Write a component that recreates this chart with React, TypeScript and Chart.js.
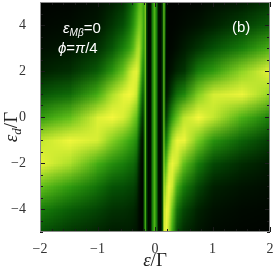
import React, { useEffect, useRef } from "react";
import { Chart, registerables } from "chart.js";

Chart.register(...registerables);

// ---- data ----
// x nodes: ε/Γ (non-uniform, dense near the three narrow resonances)
const epsNodes = [
  -2, -1.5, -1, -0.75, -0.55, -0.45, -0.38, -0.32, -0.28, -0.245, -0.215,
  -0.19, -0.17, -0.15, -0.12, -0.08, -0.045, -0.01, 0.025, 0.06, 0.1, 0.135,
  0.155, 0.175, 0.2, 0.24, 0.3, 0.38, 0.5, 0.75, 1, 1.5, 2,
];
// y nodes: ε_d/Γ, top to bottom
const epsDNodes = [5, 4, 3, 2, 1, 0, -1, -2, -3, -4, -5];

// estimated intensity (0..100) per row, one value per x node
const rowY5 = [2, 3, 8, 16, 22, 32, 42, 55, 66, 70, 64, 58, 82, 30, 5, 8, 45, 65, 45, 10, 5, 30, 75, 35, 5, 2, 2, 2, 3, 4, 8, 14, 22];
const rowY4 = [4, 6, 12, 22, 30, 40, 52, 66, 76, 75, 66, 56, 82, 30, 5, 8, 45, 65, 45, 10, 5, 30, 75, 33, 5, 3, 3, 4, 6, 10, 16, 25, 35];
const rowY3 = [8, 11, 20, 32, 46, 56, 68, 82, 86, 76, 62, 54, 80, 30, 5, 8, 45, 65, 45, 10, 5, 30, 75, 30, 5, 4, 5, 8, 14, 22, 30, 44, 64];
const rowY2 = [16, 20, 34, 53, 73, 87, 95, 97, 88, 68, 50, 48, 78, 30, 5, 8, 45, 65, 45, 10, 5, 30, 75, 28, 6, 8, 12, 18, 22, 44, 55, 80, 98];
const rowY1 = [32, 38, 63, 85, 97, 100, 97, 90, 72, 50, 35, 40, 76, 30, 5, 8, 45, 65, 45, 10, 5, 30, 75, 28, 12, 18, 28, 40, 48, 78, 93, 98, 80];
const rowY0 = [56, 70, 95, 100, 94, 86, 78, 70, 50, 32, 22, 34, 75, 30, 5, 8, 45, 65, 45, 10, 5, 30, 76, 32, 25, 38, 55, 72, 88, 100, 89, 64, 44];
const rowYm1 = [89, 99, 93, 78, 67, 60, 55, 48, 30, 16, 10, 30, 74, 30, 5, 8, 45, 65, 45, 10, 5, 30, 78, 45, 45, 65, 85, 98, 98, 75, 52, 35, 24];
const rowYm2 = [97, 85, 62, 50, 44, 40, 38, 32, 18, 8, 5, 30, 72, 30, 5, 8, 45, 65, 45, 10, 5, 32, 82, 62, 70, 90, 98, 91, 70, 43, 28, 19, 13];
const rowYm3 = [70, 55, 40, 31, 29, 27, 26, 22, 11, 5, 3, 30, 70, 30, 5, 8, 45, 65, 45, 10, 5, 34, 88, 78, 88, 99, 90, 63, 43, 26, 16, 10, 7];
const rowYm4 = [44, 34, 26, 21, 20, 19, 18, 15, 7, 3, 3, 30, 68, 30, 5, 8, 45, 65, 45, 10, 5, 36, 94, 90, 98, 95, 72, 40, 27, 16, 9, 5, 4];
const rowYm5 = [30, 22, 17, 14, 14, 14, 12, 10, 5, 3, 3, 30, 66, 30, 5, 8, 45, 65, 45, 10, 5, 38, 97, 95, 98, 85, 58, 28, 18, 10, 5, 3, 2];

const xTicks = [-2, -1, 0, 1, 2];
const xTickLabels = ["\u22122", "\u22121", "0", "1", "2"];
const yTicks = [-4, -2, 0, 2, 4];
const yTickLabels = ["\u22124", "\u22122", "0", "2", "4"];

const intensity = [rowY5, rowY4, rowY3, rowY2, rowY1, rowY0, rowYm1, rowYm2, rowYm3, rowYm4, rowYm5];

// ---- colour map (black -> dark green -> green -> yellow) ----
const STOPS: [number, number[]][] = [
  [0, [0, 0, 0]],
  [0.15, [0, 30, 0]],
  [0.3, [5, 80, 5]],
  [0.45, [25, 128, 10]],
  [0.6, [60, 168, 18]],
  [0.75, [115, 202, 30]],
  [0.88, [190, 230, 45]],
  [1, [245, 248, 60]],
];
function cmap(v: number): number[] {
  const t = Math.max(0, Math.min(1, v / 100));
  for (let i = 1; i < STOPS.length; i++) {
    if (t <= STOPS[i][0]) {
      const [t0, c0] = STOPS[i - 1];
      const [t1, c1] = STOPS[i];
      const f = (t - t0) / (t1 - t0);
      return [0, 1, 2].map((k) => Math.round(c0[k] + (c1[k] - c0[k]) * f));
    }
  }
  return STOPS[STOPS.length - 1][1];
}

const SERIF = "'Liberation Serif', 'Times New Roman', serif";
const SANS = "'Liberation Sans', Arial, sans-serif";

type Seg = { t: string; font: string; dy?: number };
function drawSegs(ctx: CanvasRenderingContext2D, segs: Seg[], x: number, y: number, align: "left" | "center") {
  let total = 0;
  for (const s of segs) {
    ctx.font = s.font;
    total += ctx.measureText(s.t).width;
  }
  let cx = align === "center" ? x - total / 2 : x;
  for (const s of segs) {
    ctx.font = s.font;
    ctx.fillText(s.t, cx, y + (s.dy || 0));
    cx += ctx.measureText(s.t).width;
  }
}

const heatmapPlugin = {
  id: "heatmap",
  beforeDatasetsDraw(chart: any) {
    const { ctx, chartArea, scales } = chart;
    const xs = scales.x;
    const ys = scales.y;
    const nC = epsNodes.length;
    const nR = epsDNodes.length;
    const off = document.createElement("canvas");
    off.width = nC;
    off.height = nR;
    const octx = off.getContext("2d")!;
    const img = octx.createImageData(nC, nR);
    for (let r = 0; r < nR; r++) {
      for (let c = 0; c < nC; c++) {
        const col = cmap(intensity[r][c]);
        const k = (r * nC + c) * 4;
        img.data[k] = col[0];
        img.data[k + 1] = col[1];
        img.data[k + 2] = col[2];
        img.data[k + 3] = 255;
      }
    }
    octx.putImageData(img, 0, 0);
    const py0 = ys.getPixelForValue(epsDNodes[0]);
    const py1 = ys.getPixelForValue(epsDNodes[nR - 1]);
    const h = (py1 - py0) / (nR - 1);
    const top = Math.round(chartArea.top);
    const bottom = Math.round(chartArea.bottom);
    ctx.save();
    ctx.fillStyle = "#000";
    ctx.fillRect(chartArea.left, chartArea.top, chartArea.right - chartArea.left, chartArea.bottom - chartArea.top);
    ctx.imageSmoothingEnabled = true;
    (ctx as any).imageSmoothingQuality = "low";
    for (let c = 0; c < nC - 1; c++) {
      const xa = xs.getPixelForValue(epsNodes[c]);
      const xb = xs.getPixelForValue(epsNodes[c + 1]);
      const w = xb - xa;
      const L = Math.round(xa);
      const R = Math.round(xb);
      if (R <= L) continue;
      ctx.save();
      ctx.beginPath();
      ctx.rect(L, top, R - L, bottom - top);
      ctx.clip();
      ctx.drawImage(off, c, 0, 2, nR, xa - w / 2, py0 - h / 2, 2 * w, nR * h);
      ctx.restore();
    }
    ctx.restore();
  },
  afterDatasetsDraw(chart: any) {
    const { ctx, chartArea, scales } = chart;
    const xs = scales.x;
    const ys = scales.y;
    const { left, right, top, bottom } = chartArea;
    ctx.save();
    // inward frame ticks
    ctx.strokeStyle = "#1a1a1a";
    ctx.lineWidth = 1;
    ctx.beginPath();
    for (let i = -10; i <= 10; i++) {
      const v = i / 2;
      const len = i % 4 === 0 ? 5 : 3;
      const y = Math.round(ys.getPixelForValue(v)) + 0.5;
      ctx.moveTo(left, y);
      ctx.lineTo(left + len, y);
      ctx.moveTo(right, y);
      ctx.lineTo(right - len, y);
    }
    for (let i = -10; i <= 10; i++) {
      const v = i / 5;
      const len = i % 5 === 0 ? 5 : 3;
      const x = Math.round(xs.getPixelForValue(v)) + 0.5;
      ctx.moveTo(x, bottom);
      ctx.lineTo(x, bottom - len);
      ctx.moveTo(x, top);
      ctx.lineTo(x, top + len);
    }
    ctx.stroke();
    // frame
    ctx.strokeStyle = "#8c8c8c";
    ctx.strokeRect(Math.round(left) + 0.5, Math.round(top) + 0.5, Math.round(right - left) - 1, Math.round(bottom - top) - 1);

    // annotations
    ctx.fillStyle = "#ffffff";
    ctx.textBaseline = "alphabetic";
    ctx.textAlign = "left";
    drawSegs(ctx, [
      { t: "\u03b5", font: `italic 15px ${SANS}` },
      { t: "M\u03b2", font: `italic 10px ${SANS}`, dy: 3 },
      { t: "=0", font: `15px ${SANS}` },
    ], 63, 33, "left");
    drawSegs(ctx, [
      { t: "\u03d5", font: `italic 15px ${SANS}` },
      { t: "=", font: `15px ${SANS}` },
      { t: "\u03c0", font: `italic 15px ${SANS}` },
      { t: "/4", font: `15px ${SANS}` },
    ], 58, 53, "left");
    drawSegs(ctx, [{ t: "(b)", font: `15px ${SANS}` }], 232, 32, "left");

    // axis titles
    ctx.fillStyle = "#222";
    drawSegs(ctx, [
      { t: "\u03b5", font: `italic 19px ${SERIF}` },
      { t: "/\u0393", font: `19px ${SERIF}` },
    ], (left + right) / 2, 266, "center");
    ctx.save();
    ctx.translate(17, 127);
    ctx.rotate(-Math.PI / 2);
    drawSegs(ctx, [
      { t: "\u03b5", font: `italic 19px ${SERIF}` },
      { t: "d", font: `italic 13px ${SERIF}`, dy: 4 },
      { t: "/\u0393", font: `19px ${SERIF}` },
    ], 0, 0, "center");
    ctx.restore();
    ctx.restore();
  },
};

export default function App() {
  const ref = useRef<HTMLCanvasElement | null>(null);
  useEffect(() => {
    document.body.style.margin = "0";
    const canvas = ref.current!;
    const chart = new Chart(canvas, {
      type: "scatter",
      data: { datasets: [{ data: [], pointRadius: 0 }] },
      options: {
        animation: false,
        responsive: false,
        events: [],
        layout: { padding: { top: 2, right: 4, left: 0, bottom: 0 } },
        plugins: { legend: { display: false }, tooltip: { enabled: false } },
        scales: {
          x: {
            type: "linear",
            min: -2,
            max: 2,
            grid: { display: false },
            border: { display: false },
            afterBuildTicks: (s: any) => {
              s.ticks = xTicks.map((v) => ({ value: v }));
            },
            afterFit: (s: any) => {
              s.height = 40;
              s.paddingLeft = 0;
              s.paddingRight = 0;
            },
            ticks: {
              autoSkip: false,
              maxRotation: 0,
              padding: 1,
              color: "#333",
              font: { family: SERIF, size: 14 },
              callback: (v: any) => xTickLabels[xTicks.indexOf(Number(v))] ?? "",
            },
          },
          y: {
            type: "linear",
            min: -5,
            max: 5,
            grid: { display: false },
            border: { display: false },
            afterBuildTicks: (s: any) => {
              s.ticks = yTicks.map((v) => ({ value: v }));
            },
            afterFit: (s: any) => {
              s.width = 40;
              s.paddingTop = 0;
              s.paddingBottom = 0;
            },
            ticks: {
              autoSkip: false,
              padding: 6,
              color: "#333",
              font: { family: SERIF, size: 14 },
              callback: (v: any) => yTickLabels[yTicks.indexOf(Number(v))] ?? "",
            },
          },
        },
      },
      plugins: [heatmapPlugin],
    } as any);
    return () => chart.destroy();
  }, []);
  return <canvas ref={ref} width={274} height={272} style={{ display: "block" }} />;
}
